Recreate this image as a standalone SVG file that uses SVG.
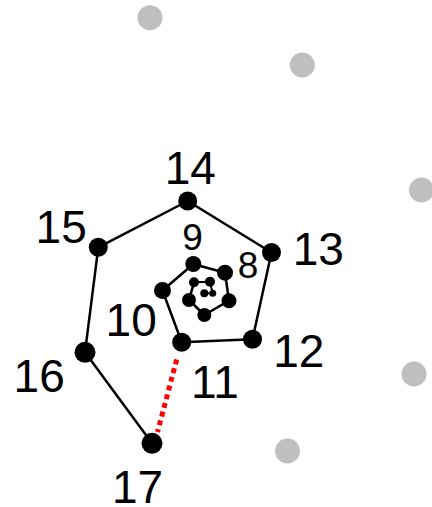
<svg xmlns="http://www.w3.org/2000/svg" width="432" height="507" viewBox="0 0 432 507">
<style>
.e{stroke:#000;stroke-width:2.5;fill:none}
.ei{stroke:#000;stroke-width:2;fill:none}
.n{fill:#000}
.g{fill:#bfbfbf}
.l{font-family:"Liberation Sans",Arial,sans-serif;font-size:46px;fill:#000;text-anchor:middle}
.s{font-family:"Liberation Sans",Arial,sans-serif;font-size:37px;fill:#000;text-anchor:middle}
</style>
<rect width="432" height="507" fill="#fff"/>
<g id="connectors">
<line class="e" x1="187.7" y1="201" x2="271.5" y2="252.5"/>
<line class="e" x1="271.5" y1="252.5" x2="252.5" y2="339.3"/>
<line class="e" x1="252.5" y1="339.3" x2="181.7" y2="342.3"/>
<line class="e" x1="181.7" y1="342.3" x2="162.5" y2="290.5"/>
<line class="e" x1="162.5" y1="290.5" x2="193.3" y2="264"/>
<line class="e" x1="193.3" y1="264" x2="225" y2="272.7"/>
<line class="e" x1="225" y1="272.7" x2="229" y2="300.7"/>
<line class="e" x1="229" y1="300.7" x2="204.3" y2="315"/>
<line class="e" x1="204.3" y1="315" x2="189" y2="300"/>
<line class="e" x1="189" y1="300" x2="194" y2="282.3"/>
<line class="ei" x1="194" y1="282.3" x2="210" y2="281.7"/>
<line class="ei" x1="210" y1="281.7" x2="212.7" y2="293.3"/>
<line class="ei" x1="212.7" y1="293.3" x2="204.3" y2="293.3"/>
<line class="e" x1="187.7" y1="201" x2="98.3" y2="247.3"/>
<line class="e" x1="98.3" y1="247.3" x2="85" y2="352.3"/>
<line class="e" x1="85" y1="352.3" x2="152" y2="443.3"/>
<line x1="176.7" y1="359.5" x2="157.5" y2="432" stroke="#ff0000" stroke-width="5" stroke-dasharray="5 4"/>
</g>
<g id="n1"><circle class="n" cx="204.3" cy="293.3" r="4"/></g>
<g id="n2"><circle class="n" cx="212.7" cy="293.3" r="3.5"/></g>
<g id="n3"><circle class="n" cx="210" cy="281.7" r="5"/></g>
<g id="n4"><circle class="n" cx="194" cy="282.3" r="5"/></g>
<g id="n5"><circle class="n" cx="189" cy="300" r="7"/></g>
<g id="n6"><circle class="n" cx="204.3" cy="315" r="7"/></g>
<g id="n7"><circle class="n" cx="229" cy="300.7" r="7.5"/></g>
<g id="n8"><circle class="n" cx="225" cy="272.7" r="8"/><text class="s" x="248" y="278">8</text></g>
<g id="n9"><circle class="n" cx="193.3" cy="264" r="8"/><text class="s" x="192.5" y="250">9</text></g>
<g id="n10"><circle class="n" cx="162.5" cy="290.5" r="8.5"/><text class="l" x="131.2" y="335.7">10</text></g>
<g id="n11"><circle class="n" cx="181.7" cy="342.3" r="9.5"/><text class="l" x="215" y="398">11</text></g>
<g id="n12"><circle class="n" cx="252.5" cy="339.3" r="9.5"/><text class="l" x="298.8" y="366.7">12</text></g>
<g id="n13"><circle class="n" cx="271.5" cy="252.5" r="9.5"/><text class="l" x="318.3" y="265">13</text></g>
<g id="n14"><circle class="n" cx="187.7" cy="201" r="9.5"/><text class="l" x="190.3" y="184">14</text></g>
<g id="n15"><circle class="n" cx="98.3" cy="247.3" r="9.5"/><text class="l" x="61.2" y="242.7">15</text></g>
<g id="n16"><circle class="n" cx="85" cy="352.3" r="10.5"/><text class="l" x="39.2" y="391.7">16</text></g>
<g id="n17"><circle class="n" cx="152" cy="443.3" r="10.5"/><text class="l" x="137.5" y="503.3">17</text></g>
<g id="g1"><circle class="g" cx="150" cy="17.7" r="12.5"/></g>
<g id="g2"><circle class="g" cx="302.3" cy="65" r="12.5"/></g>
<g id="g3"><circle class="g" cx="421.5" cy="190" r="12.5"/></g>
<g id="g4"><circle class="g" cx="414" cy="374" r="12.5"/></g>
<g id="g5"><circle class="g" cx="287.5" cy="451" r="12.5"/></g>
</svg>
